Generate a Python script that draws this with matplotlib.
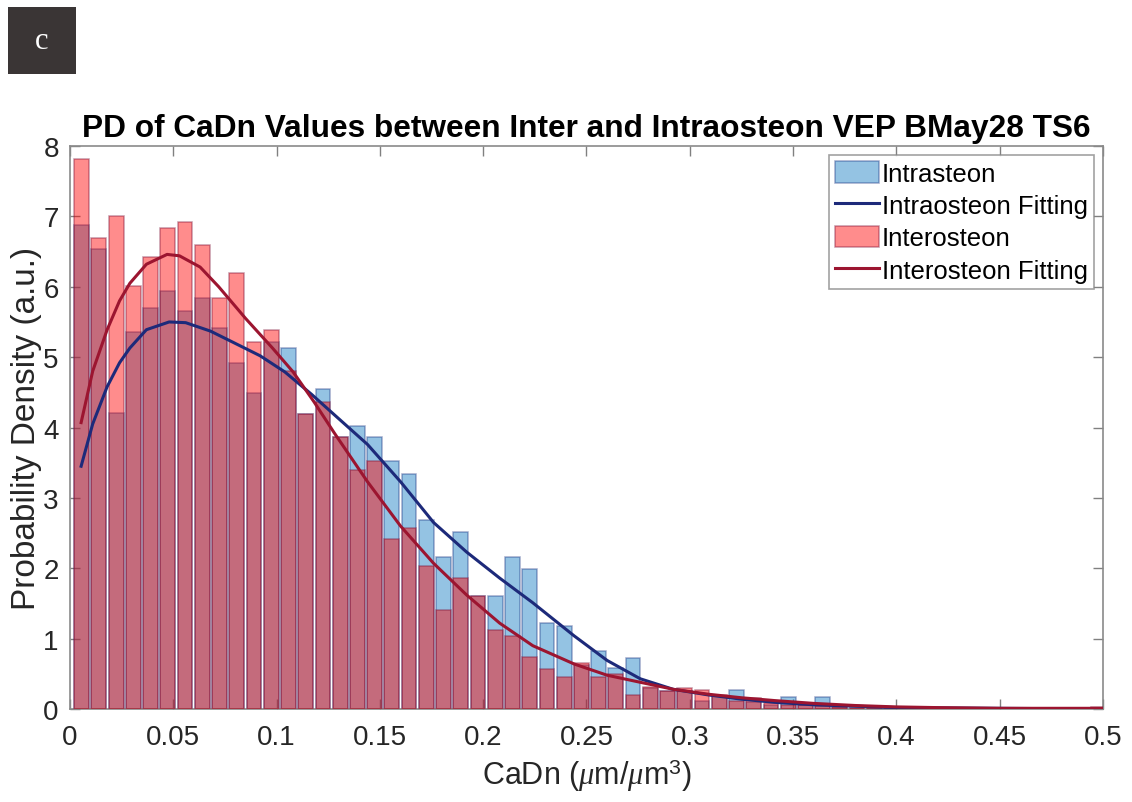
import matplotlib
matplotlib.use('agg')
import matplotlib.pyplot as plt
import numpy as np
from matplotlib.patches import Rectangle

plt.rcParams['font.family'] = ['Liberation Sans', 'DejaVu Sans']
plt.rcParams['mathtext.fontset'] = 'custom'
plt.rcParams['mathtext.rm'] = 'Liberation Sans'
plt.rcParams['mathtext.it'] = 'Liberation Serif:italic'

######## histogram bins (CaDn, um/um^3) ########
bin_start = 0.0015
bin_width = 0.00834
n_bins = 60

# probability density per bin, intraosteon
intra_pd = [6.88, 6.54, 4.21, 5.36, 5.70, 5.94, 5.65, 5.84, 5.41, 4.92,
            4.49, 5.21, 5.13, 4.19, 4.55, 3.87, 4.02, 3.86, 3.52, 3.34,
            2.69, 2.16, 2.52, 1.60, 1.60, 2.16, 1.99, 1.22, 1.18, 0.62,
            0.83, 0.58, 0.72, 0.30, 0.25, 0.25, 0.12, 0.18, 0.27, 0.10,
            0.06, 0.17, 0.05, 0.17, 0.03, 0.02, 0.01, 0.01, 0.0, 0.0,
            0.0, 0.0, 0.0, 0.0, 0.0, 0.0, 0.0, 0.0, 0.0, 0.0]

# probability density per bin, interosteon
inter_pd = [7.81, 6.69, 7.01, 6.01, 6.43, 6.84, 6.92, 6.60, 5.84, 6.20,
            5.22, 5.39, 4.81, 4.19, 4.36, 3.87, 3.39, 3.52, 2.41, 2.57,
            2.03, 1.41, 1.86, 1.60, 1.12, 1.04, 0.74, 0.57, 0.45, 0.65,
            0.45, 0.50, 0.20, 0.31, 0.25, 0.30, 0.27, 0.20, 0.12, 0.15,
            0.08, 0.06, 0.05, 0.04, 0.03, 0.02, 0.02, 0.02, 0.01, 0.01,
            0.01, 0.01, 0.01, 0.01, 0.01, 0.01, 0.01, 0.01, 0.02, 0.03]

# kernel fits
intra_fit_x = [0.0054, 0.011, 0.018, 0.024, 0.029, 0.037, 0.048, 0.056, 0.068, 0.079,
               0.092, 0.104, 0.117, 0.128, 0.144, 0.160, 0.176, 0.192, 0.208, 0.224,
               0.244, 0.260, 0.276, 0.292, 0.309, 0.325, 0.341, 0.36, 0.38, 0.40,
               0.45, 0.50]
intra_fit_y = [3.45, 4.05, 4.58, 4.92, 5.13, 5.39, 5.50, 5.49, 5.37, 5.21,
               5.02, 4.79, 4.47, 4.18, 3.76, 3.23, 2.65, 2.23, 1.86, 1.51,
               1.04, 0.69, 0.43, 0.28, 0.20, 0.14, 0.095, 0.06, 0.04, 0.02,
               0.01, 0.0]

inter_fit_x = [0.0054, 0.011, 0.018, 0.024, 0.029, 0.037, 0.047, 0.053, 0.063, 0.072,
               0.085, 0.098, 0.108, 0.118, 0.128, 0.144, 0.160, 0.176, 0.192, 0.208,
               0.224, 0.244, 0.260, 0.276, 0.292, 0.309, 0.325, 0.341, 0.36, 0.38,
               0.40, 0.42, 0.45, 0.48, 0.50]
inter_fit_y = [4.07, 4.80, 5.39, 5.80, 6.05, 6.32, 6.46, 6.44, 6.28, 6.00,
               5.55, 5.13, 4.79, 4.37, 3.92, 3.23, 2.60, 2.07, 1.62, 1.22,
               0.90, 0.64, 0.48, 0.38, 0.28, 0.21, 0.16, 0.12, 0.08, 0.05,
               0.03, 0.02, 0.01, 0.01, 0.01]

xticks = [0, 0.05, 0.1, 0.15, 0.2, 0.25, 0.3, 0.35, 0.4, 0.45, 0.5]
xticklabels = ['0', '0.05', '0.1', '0.15', '0.2', '0.25', '0.3', '0.35', '0.4', '0.45', '0.5']
yticks = [0, 1, 2, 3, 4, 5, 6, 7, 8]

fig = plt.figure(figsize=(11.32, 8.03), dpi=100)
ax = fig.add_axes([0.0618, 0.1158, 0.9126, 0.7011])

centers = bin_start + bin_width * (np.arange(n_bins) + 0.5)

h_intra = ax.bar(centers, intra_pd, width=bin_width * 0.86, color=(0.0, 0.447, 0.741), alpha=0.42,
                 edgecolor=(0.1, 0.2, 0.5), linewidth=1.1, label='Intrasteon', zorder=2)
l_intra, = ax.plot(intra_fit_x, intra_fit_y, color='#1d2a7a', linewidth=2.2,
                   label='Intraosteon Fitting', zorder=4)
h_inter = ax.bar(centers, inter_pd, width=bin_width * 0.86, color=(1.0, 0.0, 0.0), alpha=0.45,
                 edgecolor=(0.5, 0.08, 0.22), linewidth=1.1, label='Interosteon', zorder=3)
l_inter, = ax.plot(inter_fit_x, inter_fit_y, color='#9c1530', linewidth=2.2,
                   label='Interosteon Fitting', zorder=5)

ax.set_xlim(0, 0.5)
ax.set_ylim(0, 8)
ax.set_xticks(xticks)
ax.set_xticklabels(xticklabels)
ax.set_yticks(yticks)
ax.tick_params(direction='in', length=7, width=1, colors='#808080', labelcolor='#262626',
               labelsize=20, top=True, right=True)
ax.tick_params(axis='x', pad=11)
ax.tick_params(axis='y', pad=8)
for sp in ax.spines.values():
    sp.set_color('#8a8a8a')
    sp.set_linewidth(1.2)

ax.set_title('PD of CaDn Values between Inter and Intraosteon VEP BMay28 TS6',
             fontsize=22.8, fontweight='bold', pad=7)
ax.set_xlabel(r'CaDn ($\mu$m/$\mu$m$^3$)', fontsize=22, color='#262626', labelpad=4)
ax.set_ylabel('Probability Density (a.u.)', fontsize=24, color='#262626', labelpad=1)

leg = ax.legend([h_intra, l_intra, h_inter, l_inter],
                ['Intrasteon', 'Intraosteon Fitting', 'Interosteon', 'Interosteon Fitting'],
                loc='upper right', fontsize=18.5, frameon=True, fancybox=False,
                edgecolor='#8a8a8a', borderaxespad=0.35, handlelength=1.7,
                handleheight=0.9, handletextpad=0.1, labelspacing=0.3, borderpad=0.25)
leg.get_frame().set_linewidth(1.2)

# panel letter
fig.patches.append(Rectangle((0.0071, 0.9066), 0.06, 0.0834, transform=fig.transFigure,
                             facecolor='#3a3535', edgecolor='none'))
fig.text(0.0371, 0.9477, 'c', color='white', fontsize=22, family='Liberation Serif',
         ha='center', va='center')

fig.savefig('out.png', dpi=100)
